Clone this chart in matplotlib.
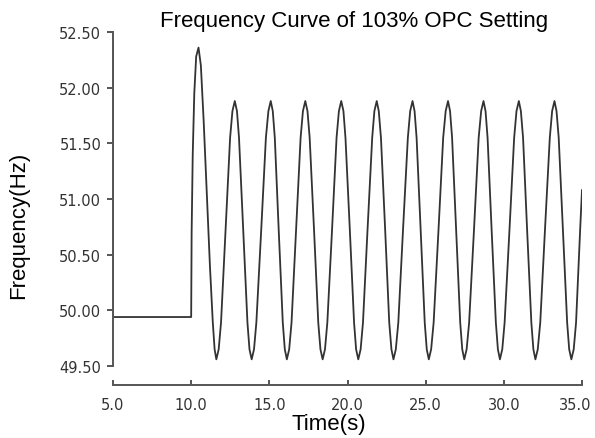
"""Frequency curve of 103% OPC setting, redrawn from the reference figure."""
import matplotlib

matplotlib.use("Agg")
import matplotlib.pyplot as plt
from matplotlib.transforms import ScaledTranslation

# time (s) and frequency (Hz)
TIME = [
    5.00, 5.00, 10.00,
    10.03, 10.10, 10.20, 10.32, 10.47, 10.62, 10.80, 11.00, 11.20, 11.38, 11.50, 11.61,
    11.76, 11.91, 12.20, 12.49, 12.64, 12.79,
    12.93, 13.06, 13.33, 13.60, 13.73, 13.87,
    14.02, 14.17, 14.48, 14.78, 14.94, 15.09,
    15.22, 15.35, 15.60, 15.86, 15.99, 16.12,
    16.27, 16.42, 16.71, 17.00, 17.15, 17.30,
    17.44, 17.58, 17.86, 18.13, 18.27, 18.41,
    18.56, 18.71, 19.01, 19.30, 19.45, 19.60,
    19.74, 19.87, 20.15, 20.42, 20.55, 20.69,
    20.84, 20.99, 21.28, 21.58, 21.72, 21.87,
    22.00, 22.14, 22.41, 22.67, 22.81, 22.94,
    23.09, 23.25, 23.55, 23.86, 24.01, 24.16,
    24.29, 24.42, 24.68, 24.94, 25.07, 25.20,
    25.35, 25.51, 25.82, 26.12, 26.28, 26.43,
    26.56, 26.69, 26.95, 27.21, 27.34, 27.47,
    27.62, 27.78, 28.09, 28.39, 28.55, 28.70,
    28.83, 28.96, 29.22, 29.49, 29.62, 29.75,
    29.90, 30.05, 30.36, 30.66, 30.81, 30.96,
    31.09, 31.23, 31.49, 31.76, 31.89, 32.02,
    32.17, 32.33, 32.63, 32.94, 33.09, 33.24,
    33.37, 33.51, 33.78, 34.05, 34.18, 34.32,
    34.47, 34.62, 34.88, 35.00,
]
FREQ = [
    52.40, 49.94, 49.94,
    50.70, 51.40, 51.95, 52.28, 52.36, 52.20, 51.70, 51.05, 50.40, 49.90, 49.65, 49.56,
    49.65, 49.89, 50.72, 51.55, 51.79, 51.88,
    51.79, 51.55, 50.72, 49.89, 49.65, 49.56,
    49.65, 49.89, 50.72, 51.55, 51.79, 51.88,
    51.79, 51.55, 50.72, 49.89, 49.65, 49.56,
    49.65, 49.89, 50.72, 51.55, 51.79, 51.88,
    51.79, 51.55, 50.72, 49.89, 49.65, 49.56,
    49.65, 49.89, 50.72, 51.55, 51.79, 51.88,
    51.79, 51.55, 50.72, 49.89, 49.65, 49.56,
    49.65, 49.89, 50.72, 51.55, 51.79, 51.88,
    51.79, 51.55, 50.72, 49.89, 49.65, 49.56,
    49.65, 49.89, 50.72, 51.55, 51.79, 51.88,
    51.79, 51.55, 50.72, 49.89, 49.65, 49.56,
    49.65, 49.89, 50.72, 51.55, 51.79, 51.88,
    51.79, 51.55, 50.72, 49.89, 49.65, 49.56,
    49.65, 49.89, 50.72, 51.55, 51.79, 51.88,
    51.79, 51.55, 50.72, 49.89, 49.65, 49.56,
    49.65, 49.89, 50.72, 51.55, 51.79, 51.88,
    51.79, 51.55, 50.72, 49.89, 49.65, 49.56,
    49.65, 49.89, 50.72, 51.55, 51.79, 51.88,
    51.79, 51.55, 50.72, 49.89, 49.65, 49.56,
    49.65, 49.89, 50.72, 51.08,
]

X_TICKS = [5.0, 10.0, 15.0, 20.0, 25.0, 30.0, 35.0]
Y_TICKS = [49.5, 50.0, 50.5, 51.0, 51.5, 52.0, 52.5]

LABEL_FONT = "Liberation Sans"
AXIS_GREY = "#555555"


def main() -> None:
    fig = plt.figure(figsize=(5.95, 4.39), dpi=100)
    ax = fig.add_axes([113 / 595, 1 - 385.5 / 439, 469 / 595, 352.5 / 439])

    ax.plot(TIME, FREQ, color="#333333", lw=1.3)

    ax.set_xlim(5.0, 35.0)
    ax.set_ylim(49.334, 52.5)

    ax.spines["top"].set_visible(False)
    ax.spines["right"].set_visible(False)
    for side in ("left", "bottom"):
        ax.spines[side].set_color(AXIS_GREY)
        ax.spines[side].set_linewidth(1.4)
    ax.spines["left"].set_bounds(49.5, 52.5)

    ax.set_xticks(X_TICKS, [f"{v:.1f}" for v in X_TICKS])
    ax.set_yticks(Y_TICKS, [f"{v:.2f}" for v in Y_TICKS])
    ax.tick_params(axis="x", direction="in", length=3.5, width=1.4,
                   color=AXIS_GREY, pad=9, labelsize=10.5, labelcolor="#333333")
    ax.tick_params(axis="y", direction="out", length=4.5, width=1.4,
                   color=AXIS_GREY, pad=4, labelsize=10.5, labelcolor="#333333")
    # last x label sits on the figure edge; nudge it in a little
    last = ax.get_xticklabels()[-1]
    last.set_transform(last.get_transform() + ScaledTranslation(-5 / 72, 0, fig.dpi_scale_trans))

    fig.text(354 / 595, 1 - 27 / 439, "Frequency Curve of 103% OPC Setting",
             ha="center", va="baseline", fontsize=16, family=LABEL_FONT)
    fig.text(329 / 595, 1 - 425 / 439, "Time(s)", ha="center", va="center",
             fontsize=16, family=LABEL_FONT)
    fig.text(19 / 595, 1 - 225 / 439, "Frequency(Hz)", ha="center", va="center",
             rotation=90, fontsize=16, family=LABEL_FONT)

    fig.savefig("out.png", dpi=100)


if __name__ == "__main__":
    main()
